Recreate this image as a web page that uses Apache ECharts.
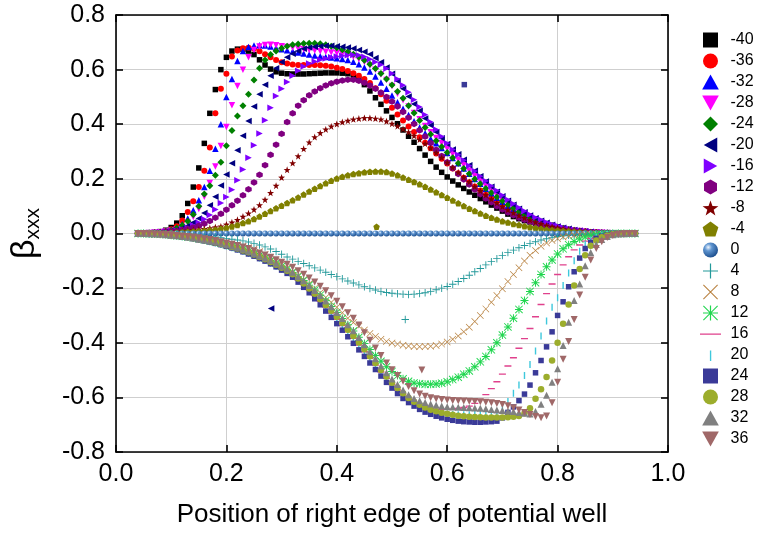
<!DOCTYPE html>
<html>
<head>
<meta charset="utf-8">
<script src="https://cdn.jsdelivr.net/npm/echarts@6/dist/echarts.min.js"></script>
<style>
  html, body { margin: 0; padding: 0; background: #fff; }
  #chart { width: 757px; height: 533px; }
</style>
</head>
<body>
<div id="chart"></div>
<script>
// Sample positions of the right edge of the well (shared by every curve)
const xPos = [
  0.04,0.05,0.06,0.07,0.08,0.09,0.10,0.11,0.12,0.13,
  0.14,0.15,0.16,0.17,0.18,0.19,0.20,0.21,0.22,0.23,
  0.24,0.25,0.26,0.27,0.28,0.29,0.30,0.31,0.32,0.33,
  0.34,0.35,0.36,0.37,0.38,0.39,0.40,0.41,0.42,0.43,
  0.44,0.45,0.46,0.47,0.48,0.49,0.50,0.51,0.52,0.53,
  0.54,0.55,0.56,0.57,0.58,0.59,0.60,0.61,0.62,0.63,
  0.64,0.65,0.66,0.67,0.68,0.69,0.70,0.71,0.72,0.73,
  0.74,0.75,0.76,0.77,0.78,0.79,0.80,0.81,0.82,0.83,
  0.84,0.85,0.86,0.87,0.88,0.89,0.90,0.91,0.92,0.93,
  0.94
];

const seriesNames = ['-40','-36','-32','-28','-24','-20','-16','-12','-8','-4','0','4','8','12','16','20','24','28','32','36'];

const yM40 = [
  0,.001,.002,.004,.007,.012,.022,.038,.065,.11,
  .17,.24,.33,.44,.527,.60,.645,.668,.675,.675,
  .668,.655,.636,.617,.602,.592,.587,.585,.584,.584,
  .584,.585,.586,.587,.588,.588,.588,.587,.585,.58,
  .566,.545,.522,.497,.473,.449,.425,.402,.379,.356,
  .334,.311,.287,.264,.243,.224,.207,.192,.178,.165,
  .152,.14,.128,.116,.104,.093,.082,.071,.062,.054,
  .047,.042,.036,.03,.025,.021,.018,.015,.012,.01,
  .008,.006,.005,.004,.003,.002,.001,.001,0,0,
  0
];
const yM36 = [
  0,.001,.002,.003,.005,.009,.016,.027,.048,.079,
  .118,.17,.23,.315,.44,.53,.585,.648,.67,.678,
  .68,.676,.667,.656,.645,.635,.627,.622,.619,.617,
  .617,.617,.617,.616,.614,.611,.607,.602,.595,.587,
  .578,.566,.551,.532,.51,.486,.46,.436,.414,.392,
  .372,.352,.332,.312,.293,.274,.256,.238,.221,.204,
  .188,.172,.157,.142,.128,.115,.102,.09,.079,.069,
  .06,.052,.044,.037,.031,.026,.021,.017,.014,.011,
  .009,.007,.005,.004,.003,.002,.001,.001,0,0,
  0
];
const yM32 = [
  0,.001,.002,.004,.006,.008,.012,.02,.034,.055,
  .085,.122,.17,.23,.31,.40,.50,.566,.632,.668,
  .683,.688,.689,.688,.685,.68,.675,.671,.667,.663,
  .659,.655,.652,.649,.646,.644,.642,.639,.635,.629,
  .62,.608,.593,.575,.553,.53,.505,.481,.457,.434,
  .411,.388,.367,.347,.33,.313,.295,.276,.257,.238,
  .219,.20,.182,.164,.147,.131,.116,.102,.089,.077,
  .066,.056,.047,.04,.033,.027,.022,.018,.014,.011,
  .009,.007,.005,.004,.003,.002,.001,.001,0,0,
  0
];
const yM28 = [
  0,.001,.002,.003,.005,.007,.01,.015,.025,.04,
  .06,.09,.135,.185,.245,.32,.39,.47,.54,.60,
  .645,.672,.685,.69,.691,.689,.686,.683,.68,.677,
  .675,.672,.67,.667,.665,.663,.661,.658,.653,.647,
  .638,.628,.615,.60,.582,.562,.54,.512,.488,.465,
  .441,.418,.394,.371,.35,.33,.31,.29,.27,.25,
  .23,.21,.191,.173,.155,.138,.122,.107,.093,.08,
  .068,.058,.049,.041,.034,.028,.023,.018,.014,.011,
  .009,.007,.005,.004,.003,.002,.001,.001,0,0,
  0
];
const yM24 = [
  0,.001,.002,.003,.005,.008,.012,.02,.03,.045,
  .07,.10,.145,.175,.213,.261,.321,.377,.43,.468,
  .51,.562,.605,.635,.655,.668,.678,.686,.691,.694,
  .696,.697,.697,.695,.691,.686,.68,.673,.665,.656,
  .646,.634,.62,.604,.586,.566,.544,.52,.495,.468,
  .441,.414,.388,.363,.34,.318,.297,.277,.257,.238,
  .219,.20,.182,.165,.149,.134,.119,.105,.092,.08,
  .069,.059,.05,.042,.035,.029,.024,.019,.015,.012,
  .009,.007,.005,.004,.003,.002,.001,.001,0,0,
  0
];
const yM20 = [
  0,.001,.002,.003,.004,.006,.009,.013,.019,.028,
  .04,.055,.075,.103,.135,.176,.216,.257,.305,.358,
  .412,.465,.51,.545,.578,.605,.628,.645,.658,.668,
  .676,.681,.684,.686,.687,.687,.686,.684,.681,.677,
  .672,.665,.656,.643,.627,.608,.585,.558,.53,.502,
  .474,.449,.421,.396,.372,.349,.328,.308,.29,.27,
  .25,.23,.21,.19,.171,.153,.136,.12,.105,.091,
  .078,.066,.056,.047,.039,.032,.026,.021,.017,.013,
  .01,.008,.006,.004,.003,.002,.001,.001,0,0,
  0
];
const yM16 = [
  0,.001,.002,.003,.004,.006,.008,.011,.015,.021,
  .029,.039,.052,.068,.088,.112,.134,.16,.195,.234,
  .277,.323,.366,.415,.46,.503,.53,.555,.578,.596,
  .611,.622,.63,.636,.641,.645,.648,.651,.653,.654,
  .653,.647,.638,.628,.618,.604,.586,.566,.543,.517,
  .49,.463,.435,.408,.381,.355,.33,.308,.288,.268,
  .248,.229,.21,.192,.174,.157,.14,.124,.109,.095,
  .082,.07,.059,.05,.041,.034,.028,.022,.018,.014,
  .011,.008,.006,.004,.003,.002,.001,.001,0,0,
  0
];
const yM12 = [
  0,.001,.002,.003,.004,.006,.008,.01,.013,.017,
  .022,.028,.036,.046,.058,.072,.087,.103,.12,.14,
  .162,.187,.215,.25,.288,.325,.365,.408,.44,.468,
  .488,.506,.52,.532,.542,.55,.556,.56,.563,.563,
  .559,.552,.542,.53,.516,.50,.483,.465,.445,.424,
  .401,.378,.355,.331,.307,.284,.261,.239,.218,.198,
  .179,.161,.144,.128,.114,.10,.088,.077,.067,.058,
  .05,.043,.037,.031,.026,.022,.018,.015,.012,.01,
  .008,.006,.005,.004,.003,.002,.001,.001,0,0,
  0
];
const yM8 = [
  0,.001,.001,.002,.003,.004,.005,.007,.009,.011,
  .013,.015,.017,.02,.023,.026,.033,.041,.05,.062,
  .074,.088,.104,.124,.149,.175,.205,.233,.258,.283,
  .31,.334,.353,.368,.381,.392,.401,.408,.413,.418,
  .421,.423,.423,.421,.418,.411,.402,.393,.383,.371,
  .358,.344,.329,.313,.296,.278,.26,.242,.224,.206,
  .189,.172,.156,.141,.126,.112,.099,.087,.076,.066,
  .057,.049,.042,.035,.029,.024,.02,.016,.013,.01,
  .008,.006,.005,.004,.003,.002,.001,.001,0,0,
  0
];
const yM4 = [
  0,0,.001,.001,.002,.002,.003,.004,.005,.006,
  .007,.008,.01,.012,.014,.017,.021,.026,.031,.038,
  .045,.053,.062,.072,.082,.092,.102,.112,.122,.132,
  .143,.154,.164,.174,.184,.193,.201,.208,.213,.218,
  .221,.224,.226,.227,.227,.225,.22,.213,.205,.197,
  .189,.18,.171,.161,.151,.141,.131,.121,.111,.101,
  .091,.082,.073,.065,.058,.051,.045,.04,.035,.031,
  .027,.023,.02,.017,.015,.013,.011,.009,.008,.006,
  .005,.004,.003,.003,.002,.001,.001,.001,0,0,
  0
];
const yZero = [
  0,0,0,0,0,0,0,0,0,0,
  0,0,0,0,0,0,0,0,0,0,
  0,0,0,0,0,0,0,0,0,0,
  0,0,0,0,0,0,0,0,0,0,
  0,0,0,0,0,0,0,0,0,0,
  0,0,0,0,0,0,0,0,0,0,
  0,0,0,0,0,0,0,0,0,0,
  0,0,0,0,0,0,0,0,0,0,
  0,0,0,0,0,0,0,0,0,0,
  0
];
const yP4 = [
  0,0,-.001,-.001,-.002,-.002,-.003,-.004,-.005,-.006,
  -.007,-.008,-.009,-.011,-.013,-.015,-.018,-.021,-.024,-.027,
  -.031,-.036,-.042,-.049,-.057,-.066,-.076,-.086,-.094,-.102,
  -.11,-.118,-.126,-.134,-.142,-.15,-.158,-.166,-.174,-.181,
  -.188,-.195,-.201,-.207,-.212,-.216,-.219,-.221,-.222,-.223,
  -.222,-.22,-.217,-.212,-.206,-.2,-.194,-.186,-.176,-.165,
  -.153,-.14,-.128,-.115,-.103,-.092,-.081,-.07,-.061,-.052,
  -.044,-.037,-.03,-.024,-.019,-.015,-.011,-.008,-.006,-.004,
  -.003,-.002,-.001,-.001,0,0,0,0,0,0,
  0
];
const yP8 = [
  0,0,-.001,-.002,-.003,-.004,-.005,-.007,-.009,-.011,
  -.013,-.016,-.019,-.022,-.026,-.03,-.034,-.038,-.042,-.047,
  -.051,-.057,-.066,-.077,-.089,-.101,-.113,-.126,-.14,-.154,
  -.169,-.184,-.2,-.217,-.234,-.252,-.27,-.29,-.31,-.326,
  -.34,-.353,-.366,-.377,-.387,-.395,-.401,-.405,-.409,-.412,
  -.414,-.415,-.414,-.413,-.41,-.405,-.397,-.387,-.375,-.36,
  -.343,-.322,-.3,-.276,-.252,-.227,-.202,-.176,-.15,-.125,
  -.101,-.08,-.062,-.047,-.035,-.026,-.019,-.013,-.009,-.006,
  -.004,-.003,-.002,-.001,-.001,0,0,0,0,0,
  0
];
const yP12 = [
  0,0,-.001,-.002,-.003,-.004,-.006,-.008,-.01,-.013,
  -.016,-.019,-.023,-.027,-.031,-.036,-.041,-.046,-.052,-.058,
  -.065,-.073,-.081,-.09,-.099,-.109,-.12,-.131,-.143,-.157,
  -.172,-.189,-.207,-.226,-.246,-.267,-.289,-.311,-.334,-.357,
  -.38,-.403,-.425,-.447,-.468,-.488,-.505,-.52,-.532,-.541,
  -.547,-.55,-.552,-.552,-.551,-.548,-.543,-.535,-.526,-.515,
  -.503,-.488,-.47,-.45,-.426,-.40,-.372,-.342,-.31,-.278,
  -.245,-.212,-.18,-.15,-.122,-.097,-.075,-.056,-.041,-.029,
  -.02,-.013,-.008,-.005,-.003,-.001,0,0,0,0,
  0
];
const yP16 = [
  0,0,-.001,-.002,-.003,-.005,-.007,-.009,-.012,-.014,
  -.018,-.021,-.025,-.029,-.034,-.039,-.045,-.05,-.057,-.063,
  -.071,-.079,-.088,-.097,-.106,-.117,-.128,-.14,-.153,-.17,
  -.187,-.206,-.227,-.248,-.269,-.291,-.314,-.337,-.36,-.384,
  -.408,-.433,-.457,-.482,-.507,-.53,-.553,-.573,-.591,-.607,
  -.62,-.63,-.637,-.641,-.643,-.644,-.644,-.643,-.641,-.637,
  -.632,-.622,-.608,-.59,-.568,-.543,-.515,-.485,-.455,-.42,
  -.385,-.348,-.305,-.26,-.22,-.185,-.15,-.115,-.085,-.06,
  -.042,-.028,-.018,-.011,-.006,-.003,-.001,0,0,0,
  0
];
const yP20 = [
  0,0,-.001,-.002,-.003,-.005,-.007,-.009,-.012,-.015,
  -.018,-.022,-.026,-.03,-.035,-.04,-.046,-.052,-.058,-.065,
  -.073,-.081,-.09,-.099,-.109,-.12,-.131,-.143,-.156,-.174,
  -.192,-.212,-.233,-.254,-.277,-.3,-.322,-.345,-.369,-.393,
  -.417,-.441,-.466,-.49,-.514,-.537,-.559,-.579,-.597,-.612,
  -.625,-.636,-.645,-.652,-.657,-.66,-.662,-.663,-.664,-.664,
  -.664,-.663,-.662,-.661,-.659,-.655,-.64,-.615,-.585,-.555,
  -.52,-.48,-.43,-.375,-.32,-.27,-.235,-.19,-.145,-.10,
  -.065,-.04,-.024,-.014,-.008,-.004,-.002,-.001,0,0,
  0
];
const yP24 = [
  0,0,-.001,-.002,-.003,-.005,-.007,-.009,-.012,-.015,
  -.019,-.023,-.027,-.031,-.036,-.041,-.047,-.053,-.06,-.067,
  -.075,-.083,-.092,-.101,-.111,-.122,-.134,-.146,-.16,-.178,
  -.197,-.217,-.239,-.261,-.284,-.307,-.33,-.354,-.378,-.402,
  -.426,-.45,-.474,-.498,-.522,-.545,-.566,-.586,-.604,-.619,
  -.632,-.644,-.654,-.662,-.669,-.675,-.68,-.684,-.687,-.689,
  -.69,-.691,-.691,-.69,-.689,-.687,-.675,-.655,-.635,-.612,
  -.588,-.555,-.51,-.465,-.415,-.36,-.30,-.25,-.195,-.14,
  -.09,-.055,-.032,-.018,-.01,-.005,-.002,-.001,0,0,
  0
];
const yP28 = [
  0,0,-.001,-.002,-.003,-.005,-.007,-.009,-.011,-.014,
  -.017,-.021,-.025,-.028,-.033,-.038,-.043,-.049,-.055,-.062,
  -.069,-.077,-.086,-.094,-.104,-.114,-.125,-.136,-.149,-.165,
  -.183,-.201,-.221,-.241,-.262,-.283,-.305,-.328,-.352,-.375,
  -.399,-.424,-.449,-.474,-.50,-.524,-.546,-.566,-.585,-.602,
  -.616,-.627,-.637,-.645,-.651,-.656,-.66,-.664,-.667,-.669,
  -.671,-.672,-.673,-.674,-.674,-.674,-.674,-.673,-.671,-.668,
  -.658,-.64,-.605,-.57,-.525,-.465,-.40,-.33,-.26,-.19,
  -.13,-.08,-.045,-.026,-.014,-.007,-.003,-.001,0,0,
  0
];
const yP32 = [
  0,0,-.001,-.002,-.003,-.005,-.006,-.008,-.011,-.013,
  -.016,-.02,-.023,-.027,-.031,-.036,-.041,-.046,-.052,-.058,
  -.065,-.073,-.082,-.09,-.099,-.109,-.12,-.13,-.142,-.157,
  -.173,-.19,-.209,-.227,-.247,-.268,-.289,-.311,-.334,-.356,
  -.381,-.407,-.433,-.459,-.485,-.51,-.533,-.553,-.573,-.59,
  -.604,-.612,-.619,-.624,-.628,-.632,-.634,-.635,-.636,-.637,
  -.638,-.639,-.64,-.642,-.644,-.646,-.648,-.65,-.652,-.655,
  -.658,-.661,-.652,-.625,-.592,-.545,-.495,-.41,-.325,-.245,
  -.185,-.118,-.07,-.04,-.022,-.011,-.005,-.002,-.001,0,
  0
];
const yP36 = [
  0,0,-.001,-.002,-.003,-.004,-.005,-.007,-.009,-.011,
  -.013,-.016,-.019,-.022,-.026,-.03,-.035,-.039,-.044,-.049,
  -.055,-.063,-.071,-.079,-.087,-.096,-.105,-.113,-.124,-.136,
  -.149,-.163,-.178,-.193,-.21,-.228,-.248,-.268,-.29,-.31,
  -.335,-.363,-.391,-.419,-.447,-.474,-.499,-.52,-.541,-.56,
  -.576,-.588,-.596,-.601,-.605,-.608,-.61,-.611,-.612,-.613,
  -.614,-.615,-.616,-.618,-.62,-.622,-.626,-.631,-.638,-.646,
  -.655,-.663,-.67,-.675,-.668,-.62,-.545,-.46,-.395,-.315,
  -.225,-.16,-.097,-.055,-.03,-.015,-.007,-.003,-.001,0,
  0
];

const yValues = [yM40,yM36,yM32,yM28,yM24,yM20,yM16,yM12,yM8,yM4,yZero,yP4,yP8,yP12,yP16,yP20,yP24,yP28,yP32,yP36];

// Isolated points that sit away from their own curves
const strayNames = ['-20', '-4', '4', '24', '36'];
const strayX = [0.281, 0.472, 0.524, 0.631, 0.554];
const strayY = [-0.275, 0.025, -0.315, 0.545, -0.50];

// Tick values of both axes
const xTicks = [0.0, 0.2, 0.4, 0.6, 0.8, 1.0];
const yTicks = [-0.8, -0.6, -0.4, -0.2, 0.0, 0.2, 0.4, 0.6, 0.8];

// ---- marker styling ----
const P = {
  triDown: 'path://M0,0L10,0L5,9Z',
  triUp: 'path://M5,0L10,9L0,9Z',
  triLeft: 'path://M9,0L9,10L0,5Z',
  triRight: 'path://M0,0L9,5L0,10Z',
  square: 'path://M0,0h10v10h-10z',
  diamond: 'path://M5,0L10,5L5,10L0,5Z',
  hexagon: 'path://M5,0L9.33,2.5L9.33,7.5L5,10L0.67,7.5L0.67,2.5Z',
  star: 'path://M5,0L6.18,3.38L9.76,3.45L6.9,5.62L7.94,9.05L5,7L2.06,9.05L3.1,5.62L0.24,3.45L3.82,3.38Z',
  pentagon: 'path://M5,0L9.76,3.45L7.94,9.05L2.06,9.05L0.24,3.45Z',
  plus: 'path://M4.4,0h1.2v10h-1.2zM0,4.4h10v1.2h-10z',
  cross: 'path://M0,0.7L0.7,0L10,9.3L9.3,10ZM9.3,0L10,0.7L0.7,10L0,9.3Z',
  asterisk: 'path://M4.4,0h1.2v10h-1.2zM0,4.4h10v1.2h-10zM0,0.8L0.8,0L10,9.2L9.2,10ZM9.2,0L10,0.8L0.8,10L0,9.2Z',
  dash: 'path://M0,4h10v2h-10zM0,0h0.01v0.01h-0.01zM9.99,9.99h0.01v0.01h-0.01z',
  bar: 'path://M4,0h2v10h-2zM0,0h0.01v0.01h-0.01zM9.99,9.99h0.01v0.01h-0.01z',
  plusThin: 'path://M4.6,0h0.8v10h-0.8zM0,4.6h10v0.8h-10z',
  crossThin: 'path://M0,0.5L0.5,0L10,9.5L9.5,10ZM9.5,0L10,0.5L0.5,10L0,9.5Z',
  asteriskThin: 'path://M4.6,0h0.8v10h-0.8zM0,4.6h10v0.8h-10zM0,0.5L0.5,0L10,9.5L9.5,10ZM9.5,0L10,0.5L0.5,10L0,9.5Z',
  dashWide: 'path://M0,4.6h14v0.9h-14zM0,0h0.01v0.01h-0.01zM13.99,9.99h0.01v0.01h-0.01z',
  barShort: 'path://M4.6,2h0.9v7h-0.9zM0,0h0.01v0.01h-0.01zM9.99,9.99h0.01v0.01h-0.01z'
};

const sphere = new echarts.graphic.RadialGradient(0.35, 0.32, 0.7, [
  { offset: 0, color: '#eef5ff' },
  { offset: 0.35, color: '#5f95d0' },
  { offset: 1, color: '#1d4f8f' }
]);

const colors = ['#000000','#ff0000','#0000ff','#ff00ff','#008000','#000080','#8000ff','#800080','#800000','#808000',
                sphere,'#23999a','#b8813f','#1fd64e','#e0408c','#3ec8dc','#3a3a98','#9cad2c','#808080','#a06868'];
const plotSymbols = ['rect','circle','triangle',P.triDown,'diamond',P.triLeft,P.triRight,P.hexagon,P.star,P.pentagon,
                     'circle',P.plus,P.cross,P.asterisk,P.dash,P.bar,'rect','circle','triangle',P.triDown];
const plotSizes = [5.5,6,6.5,6.5,7,6.5,6.5,6.5,7,6.5, 6,7.5,7,8,7,7,5.5,6.5,7,7];
const legendIcons = [P.square,'circle',P.triUp,P.triDown,P.diamond,P.triLeft,P.triRight,P.hexagon,P.star,P.pentagon,
                     'circle',P.plusThin,P.crossThin,P.asteriskThin,P.dashWide,P.barShort,P.square,'circle',P.triUp,P.triDown];

const FONT = 'Liberation Sans, Arial, sans-serif';

const series = seriesNames.map((name, k) => {
  const pts = xPos.map((x, i) => [x, yValues[k][i]]);
  strayNames.forEach((s, j) => { if (s === name) pts.push([strayX[j], strayY[j]]); });
  return {
    name: name,
    type: 'scatter',
    data: pts,
    symbol: plotSymbols[k],
    symbolSize: plotSizes[k],
    itemStyle: { color: colors[k], opacity: 1 },
    emphasis: { disabled: true },
    silent: true,
    z: 2
  };
});

const axisLineStyle = { color: '#000', width: 1.6 };
const fmt = v => v.toFixed(1);

const option = {
  animation: false,
  backgroundColor: '#fff',
  grid: { left: 113, right: 89, top: 15, bottom: 78, containLabel: false },
  xAxis: [{
    type: 'value', min: xTicks[0], max: xTicks[xTicks.length - 1], interval: 0.2, position: 'bottom',
    axisLine: { show: true, onZero: false, lineStyle: axisLineStyle },
    axisTick: { show: true, inside: true, length: 7, lineStyle: axisLineStyle },
    axisLabel: { formatter: fmt, fontSize: 25, color: '#000', margin: 10, fontFamily: FONT },
    splitLine: { show: true, lineStyle: { color: '#cfcfcf', width: 1 } },
    name: 'Position of right edge of potential well', nameLocation: 'middle', nameGap: 50,
    nameTextStyle: { fontSize: 26, color: '#000', fontFamily: FONT }
  }, {
    type: 'value', min: xTicks[0], max: xTicks[xTicks.length - 1], interval: 0.2, position: 'top',
    axisLine: { show: true, onZero: false, lineStyle: axisLineStyle },
    axisTick: { show: true, inside: true, length: 7, lineStyle: axisLineStyle },
    axisLabel: { show: false }, splitLine: { show: false }
  }],
  yAxis: [{
    type: 'value', min: yTicks[0], max: yTicks[yTicks.length - 1], interval: 0.2, position: 'left',
    axisLine: { show: true, onZero: false, lineStyle: axisLineStyle },
    axisTick: { show: true, inside: true, length: 7, lineStyle: axisLineStyle },
    axisLabel: { formatter: fmt, fontSize: 25, color: '#000', margin: 11, fontFamily: FONT },
    splitLine: { show: true, lineStyle: { color: '#cfcfcf', width: 1 } },
    name: '{b|β}{s|xxx}', nameLocation: 'middle', nameRotate: 90, nameGap: 72,
    nameTextStyle: {
      color: '#000',
      rich: {
        b: { fontSize: 34, fontFamily: FONT, color: '#000', lineHeight: 38, verticalAlign: 'middle' },
        s: { fontSize: 21, fontFamily: FONT, color: '#000', lineHeight: 16, verticalAlign: 'bottom' }
      }
    }
  }, {
    type: 'value', min: yTicks[0], max: yTicks[yTicks.length - 1], interval: 0.2, position: 'right',
    axisLine: { show: true, onZero: false, lineStyle: axisLineStyle },
    axisTick: { show: true, inside: true, length: 7, lineStyle: axisLineStyle },
    axisLabel: { show: false }, splitLine: { show: false }
  }],
  legend: {
    orient: 'vertical',
    left: 695, top: 27, padding: 5,
    itemWidth: 30, itemHeight: 15, itemGap: 5,
    symbolKeepAspect: true,
    selectedMode: false,
    textStyle: { fontSize: 16, color: '#000', fontFamily: FONT, lineHeight: 15 },
    data: seriesNames.map((n, k) => ({ name: n, icon: legendIcons[k] }))
  },
  series: series
};

const chart = echarts.init(document.getElementById('chart'), null, { renderer: 'canvas' });
chart.setOption(option);
</script>
</body>
</html>
